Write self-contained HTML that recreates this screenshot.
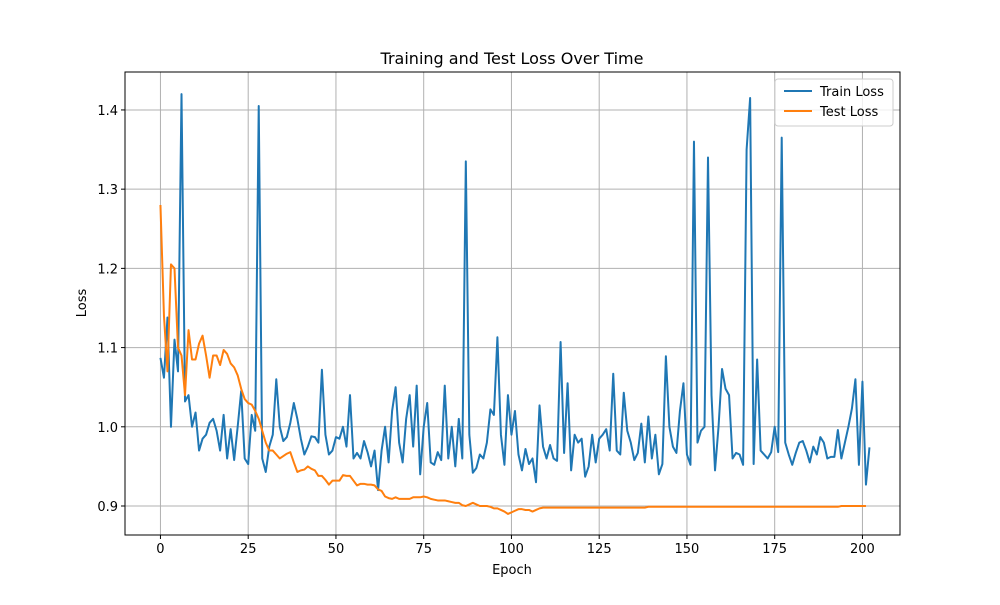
<!DOCTYPE html>
<html><head><meta charset="utf-8"><style>
body{margin:0;background:#fff}
svg{font-family:"DejaVu Sans","Liberation Sans",sans-serif}
</style></head><body>
<svg id="chart" width="1000" height="600" xmlns="http://www.w3.org/2000/svg">
<rect width="1000" height="600" fill="#fff"/>
<g id="grid"></g>
<g id="xticks"></g>
<g id="yticks"></g>
<g id="lines"></g>
<rect x="125" y="72" width="775" height="463" fill="none" stroke="#000" stroke-width="1"/>
<text x="512" y="64" text-anchor="middle" font-size="16">Training and Test Loss Over Time</text>
<text x="512" y="574" text-anchor="middle" font-size="13">Epoch</text>
<text x="86" y="303" text-anchor="middle" font-size="13" transform="rotate(-90 86 303)">Loss</text>
<g>
<rect x="775" y="79" width="118" height="47" rx="3" fill="#fff" fill-opacity="0.8" stroke="#ccc"/>
<g>
<line x1="784" y1="91" x2="812" y2="91" stroke="#1f77b4" stroke-width="2"/>
<text x="820" y="96" font-size="13">Train Loss</text></g>
<g>
<line x1="784" y1="111" x2="812" y2="111" stroke="#ff7f0e" stroke-width="2"/>
<text x="820" y="116" font-size="13">Test Loss</text></g>
</g>
</svg>
<script>
const trainLoss=[1.087,1.062,1.138,1.0,1.11,1.07,1.42,1.032,1.04,1.0,1.018,0.97,0.985,0.99,1.005,1.01,0.995,0.97,1.015,0.96,0.997,0.958,1.0,1.045,0.96,0.953,1.015,0.995,1.405,0.96,0.943,0.975,0.99,1.06,1.0,0.982,0.987,1.005,1.03,1.01,0.985,0.965,0.975,0.988,0.987,0.98,1.072,0.99,0.965,0.97,0.987,0.985,1.0,0.975,1.04,0.96,0.967,0.96,0.982,0.968,0.95,0.97,0.92,0.97,1.0,0.955,1.02,1.05,0.98,0.955,1.01,1.04,0.975,1.052,0.94,1.0,1.03,0.955,0.952,0.968,0.958,1.052,0.96,1.0,0.95,1.01,0.96,1.335,0.99,0.942,0.948,0.965,0.96,0.98,1.022,1.015,1.113,0.99,0.952,1.04,0.99,1.02,0.965,0.945,0.972,0.953,0.96,0.93,1.027,0.975,0.96,0.977,0.96,0.957,1.107,0.967,1.055,0.945,0.99,0.98,0.985,0.937,0.95,0.99,0.955,0.985,0.99,0.997,0.97,1.067,0.97,0.965,1.043,0.995,0.98,0.958,0.967,1.004,0.955,1.013,0.96,0.99,0.94,0.953,1.089,1.0,0.975,0.967,1.02,1.055,0.965,0.952,1.36,0.98,0.995,1.0,1.34,1.04,0.945,1.0,1.073,1.048,1.04,0.96,0.967,0.965,0.952,1.35,1.415,0.953,1.085,0.97,0.965,0.96,0.968,1.0,0.968,1.365,0.98,0.965,0.952,0.967,0.98,0.982,0.97,0.955,0.975,0.965,0.987,0.98,0.96,0.962,0.962,0.996,0.96,0.98,1.0,1.023,1.06,0.952,1.057,0.927,0.974];
const testLoss=[1.28,1.14,1.07,1.205,1.2,1.1,1.09,1.04,1.122,1.085,1.085,1.105,1.115,1.09,1.062,1.09,1.09,1.078,1.097,1.092,1.08,1.075,1.065,1.048,1.035,1.03,1.028,1.02,1.01,0.995,0.98,0.97,0.97,0.965,0.96,0.963,0.966,0.968,0.955,0.943,0.945,0.946,0.95,0.947,0.945,0.938,0.938,0.933,0.927,0.932,0.932,0.932,0.939,0.938,0.938,0.932,0.926,0.928,0.928,0.927,0.927,0.926,0.921,0.919,0.912,0.91,0.909,0.911,0.909,0.909,0.909,0.909,0.911,0.911,0.911,0.912,0.911,0.909,0.908,0.907,0.907,0.907,0.906,0.905,0.904,0.904,0.901,0.9,0.902,0.904,0.902,0.9,0.9,0.9,0.899,0.897,0.897,0.895,0.893,0.89,0.892,0.894,0.896,0.896,0.895,0.895,0.893,0.895,0.897,0.898,0.898,0.898,0.898,0.898,0.898,0.898,0.898,0.898,0.898,0.898,0.898,0.898,0.898,0.898,0.898,0.898,0.898,0.898,0.898,0.898,0.898,0.898,0.898,0.898,0.898,0.898,0.898,0.898,0.898,0.899,0.899,0.899,0.899,0.899,0.899,0.899,0.899,0.899,0.899,0.899,0.899,0.899,0.899,0.899,0.899,0.899,0.899,0.899,0.899,0.899,0.899,0.899,0.899,0.899,0.899,0.899,0.899,0.899,0.899,0.899,0.899,0.899,0.899,0.899,0.899,0.899,0.899,0.899,0.899,0.899,0.899,0.899,0.899,0.899,0.899,0.899,0.899,0.899,0.899,0.899,0.899,0.899,0.899,0.899,0.9,0.9,0.9,0.9,0.9,0.9,0.9,0.9];
const xTicks=[0,25,50,75,100,125,150,175,200];
const yTicks=[0.9,1.0,1.1,1.2,1.3,1.4];
const yTickLabels=["0.9","1.0","1.1","1.2","1.3","1.4"];
const L=125,R=900,T=72,B=535,X0=-10.1,X1=210.7,Y0=0.8634,Y1=1.4479;
const sx=v=>L+(v-X0)/(X1-X0)*(R-L);
const sy=v=>B-(v-Y0)/(Y1-Y0)*(B-T);
const NS="http://www.w3.org/2000/svg";
function mk(tag,attrs,parent){const e=document.createElementNS(NS,tag);for(const k in attrs)e.setAttribute(k,attrs[k]);parent.appendChild(e);return e;}
const grid=document.getElementById('grid'),xg=document.getElementById('xticks'),yg=document.getElementById('yticks'),lg=document.getElementById('lines');
xTicks.forEach(t=>{const x=sx(t);
const gl=mk('line',{x1:x,x2:x,y1:T,y2:B,stroke:'#b0b0b0','stroke-width':1},grid);


mk('line',{x1:x,x2:x,y1:B,y2:B+4,stroke:'#000'},xg);
const tx=mk('text',{x:x,y:B+18,'text-anchor':'middle','font-size':13},xg);tx.textContent=t;

});
yTicks.forEach((t,i)=>{const y=sy(t);
const gl=mk('line',{x1:L,x2:R,y1:y,y2:y,stroke:'#b0b0b0','stroke-width':1},grid);


mk('line',{x1:L-4,x2:L,y1:y,y2:y,stroke:'#000'},yg);
const tx=mk('text',{x:L-7,y:y+5,'text-anchor':'end','font-size':13},yg);tx.textContent=yTickLabels[i];

});
function line(data,color,name){const d=data.map((v,i)=>(i?'L':'M')+sx(i).toFixed(2)+','+sy(v).toFixed(2)).join('');
const p=mk('path',{d:d,fill:'none',stroke:color,'stroke-width':2,'stroke-linejoin':'round'},lg);

}
line(trainLoss,'#1f77b4','train-loss-line');
line(testLoss,'#ff7f0e','test-loss-line');
</script>
</body></html>
